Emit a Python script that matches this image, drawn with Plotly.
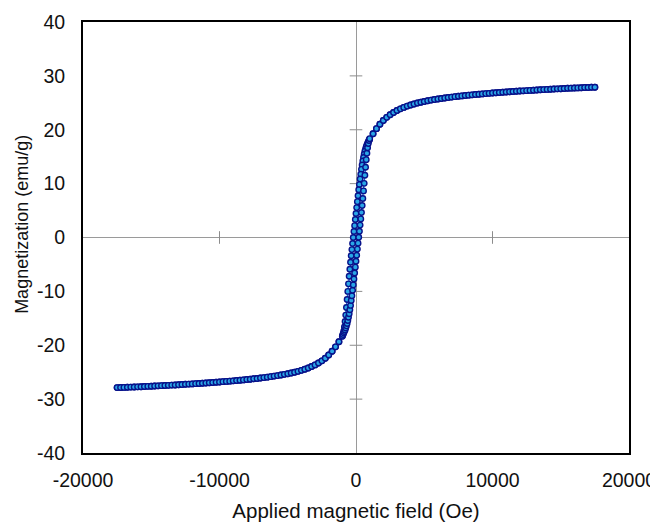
import plotly.graph_objects as go

# High-field part, positive side (Oe, emu/g)
H_high_pos = [17500, 17250, 17000, 16750, 16500, 16250, 16000, 15750, 15500, 15250,
              15000, 14750, 14500, 14250, 14000, 13750, 13500, 13250, 13000, 12750,
              12500, 12250, 12000, 11750, 11500, 11250, 11000, 10750, 10500, 10250,
              10000, 9750, 9500, 9250, 9000, 8750, 8500, 8250, 8000, 7750,
              7500, 7250, 7000, 6750, 6500, 6250, 6000, 5750, 5500, 5250,
              5000, 4750, 4500, 4250, 4000, 3750, 3500, 3250, 3000, 2750,
              2500, 2250, 2000, 1750, 1500, 1250]
M_high_pos = [27.90, 27.88, 27.85, 27.83, 27.80, 27.77, 27.75, 27.72, 27.69, 27.66,
              27.62, 27.59, 27.56, 27.52, 27.49, 27.45, 27.42, 27.38, 27.34, 27.30,
              27.26, 27.22, 27.18, 27.14, 27.10, 27.05, 27.01, 26.96, 26.91, 26.86,
              26.81, 26.76, 26.71, 26.65, 26.60, 26.54, 26.48, 26.42, 26.35, 26.28,
              26.21, 26.14, 26.06, 25.98, 25.90, 25.81, 25.71, 25.61, 25.50, 25.38,
              25.25, 25.11, 24.96, 24.79, 24.60, 24.39, 24.15, 23.88, 23.57, 23.21,
              22.79, 22.30, 21.72, 21.03, 20.20, 19.25]

# High-field part, negative side
H_high_neg = [-1250, -1500, -1750, -2000, -2250, -2500, -2750, -3000, -3250, -3500,
              -3750, -4000, -4250, -4500, -4750, -5000, -5250, -5500, -5750, -6000,
              -6250, -6500, -6750, -7000, -7250, -7500, -7750, -8000, -8250, -8500,
              -8750, -9000, -9250, -9500, -9750, -10000, -10250, -10500, -10750, -11000,
              -11250, -11500, -11750, -12000, -12250, -12500, -12750, -13000, -13250, -13500,
              -13750, -14000, -14250, -14500, -14750, -15000, -15250, -15500, -15750, -16000,
              -16250, -16500, -16750, -17000, -17250, -17500]
M_high_neg = [-19.35, -20.30, -21.10, -21.80, -22.40, -22.90, -23.30, -23.65, -23.95, -24.22,
              -24.45, -24.66, -24.84, -25.00, -25.15, -25.28, -25.40, -25.52, -25.63, -25.73,
              -25.83, -25.92, -26.00, -26.08, -26.16, -26.23, -26.30, -26.37, -26.43, -26.49,
              -26.55, -26.61, -26.66, -26.71, -26.76, -26.81, -26.86, -26.91, -26.96, -27.00,
              -27.05, -27.09, -27.13, -27.17, -27.21, -27.25, -27.29, -27.33, -27.37, -27.40,
              -27.44, -27.47, -27.50, -27.54, -27.57, -27.60, -27.63, -27.66, -27.69, -27.72,
              -27.74, -27.77, -27.79, -27.82, -27.84, -27.86]

# Low-field part (from +1000 down to -1000 Oe)
H_center = [1000, 950, 900, 850, 800, 750, 700, 650, 600, 550,
            500, 450, 400, 350, 300, 250, 200, 150, 100, 50,
            0, -50, -100, -150, -200, -250, -300, -350, -400, -450,
            -500, -550, -600, -650, -700, -750, -800, -850, -900, -950, -1000]
M_center_desc = [18.25, 18.00, 17.75, 17.50, 17.20, 16.85, 16.45, 16.00, 15.45, 14.85,
                 14.20, 13.45, 12.65, 11.75, 10.85, 9.85, 8.85, 7.75, 6.65, 5.55,
                 4.45, 3.35, 2.20, 1.10, 0.00, -1.10, -2.25, -3.40, -4.60, -5.90,
                 -7.20, -8.60, -10.00, -11.50, -13.00, -14.40, -15.60, -16.60, -17.40, -17.95, -18.35]
M_center_asc = [18.35, 18.00, 17.45, 16.65, 15.65, 14.45, 13.05, 11.55, 10.05, 8.65,
                7.25, 5.95, 4.65, 3.45, 2.30, 1.15, 0.05, -1.05, -2.15, -3.30,
                -4.40, -5.50, -6.60, -7.70, -8.80, -9.80, -10.80, -11.70, -12.60, -13.40,
                -14.15, -14.80, -15.40, -15.95, -16.40, -16.80, -17.15, -17.45, -17.70, -18.00, -18.30]

x_tick_vals = [-20000, -10000, 0, 10000, 20000]
x_tick_text = ["-20000", "-10000", "0", "10000", "20000"]
y_tick_vals = [-40, -30, -20, -10, 0, 10, 20, 30, 40]
y_tick_text = ["-40", "-30", "-20", "-10", "0", "10", "20", "30", "40"]
x_ticks_on_axis = [-10000, 10000]
y_ticks_on_axis = [-30, -20, -10, 10, 20, 30]

# Branches
H_desc = H_high_pos + H_center + H_high_neg
M_desc = M_high_pos + M_center_desc + M_high_neg
H_asc = H_high_neg[::-1] + H_center[::-1] + H_high_pos[::-1]
M_asc = M_high_neg[::-1] + M_center_asc[::-1] + M_high_pos[::-1]

marker = dict(symbol="circle", size=5.5, color="#2aa6e6",
              line=dict(color="#08128a", width=1.4))
line = dict(color="#1a5fd0", width=1.3)

fig = go.Figure()
# cross ticks on the zero axes
fig.add_trace(go.Scatter(x=[0] * len(y_ticks_on_axis), y=y_ticks_on_axis, mode="markers",
                         marker=dict(symbol="line-ew", size=9, line=dict(color="#8c8c8c", width=1)),
                         hoverinfo="skip", showlegend=False))
fig.add_trace(go.Scatter(x=x_ticks_on_axis, y=[0] * len(x_ticks_on_axis), mode="markers",
                         marker=dict(symbol="line-ns", size=9, line=dict(color="#8c8c8c", width=1)),
                         hoverinfo="skip", showlegend=False))
fig.add_trace(go.Scatter(x=H_desc, y=M_desc, mode="lines+markers", marker=marker, line=line,
                         showlegend=False))
fig.add_trace(go.Scatter(x=H_asc, y=M_asc, mode="lines+markers", marker=marker, line=line,
                         showlegend=False))

family = "Liberation Sans, Arial, sans-serif"
font = dict(family=family, size=19.5, color="#111")
fig.update_layout(
    width=658, height=525,
    margin=dict(l=75, r=37, t=14, b=80),
    paper_bgcolor="white", plot_bgcolor="white",
    font=font,
)
fig.update_xaxes(
    range=[-20000, 20000], tickvals=x_tick_vals, ticktext=x_tick_text,
    showgrid=False, zeroline=True, zerolinecolor="#9a9a9a", zerolinewidth=1,
    showline=True, linecolor="black", linewidth=2, mirror=True,
    ticks="outside", ticklen=9, tickcolor="rgba(0,0,0,0)",
    automargin=False,
    title=dict(text="Applied magnetic field (Oe)", standoff=13,
               font=dict(family=family, size=20.5, color="#111")),
)
fig.update_yaxes(
    range=[-40, 40], tickvals=y_tick_vals, ticktext=y_tick_text,
    showgrid=False, zeroline=True, zerolinecolor="#9a9a9a", zerolinewidth=1,
    showline=True, linecolor="black", linewidth=2, mirror=True,
    ticks="outside", ticklen=12, tickcolor="rgba(0,0,0,0)",
    automargin=False,
)
fig.add_annotation(
    text="Magnetization (emu/g)", textangle=-90, showarrow=False,
    xref="paper", yref="paper", x=-0.113, y=0.53, xanchor="center", yanchor="middle",
    font=dict(family=family, size=18, color="#111"),
)

fig.write_html("out.html")
